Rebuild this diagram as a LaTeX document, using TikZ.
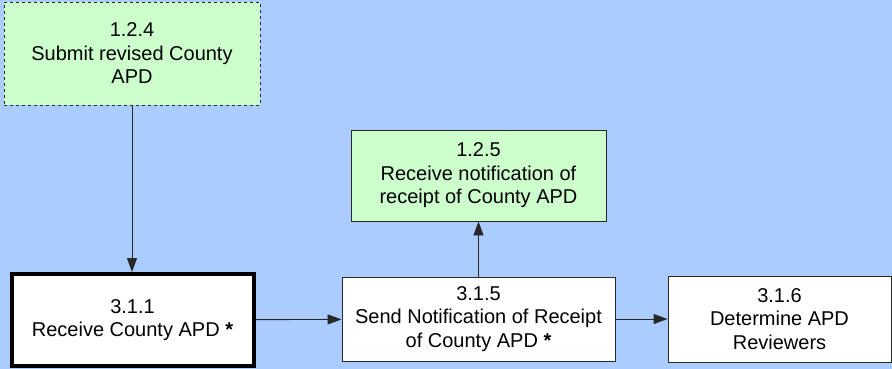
\documentclass[tikz,border=0pt]{standalone}
\usepackage{fontspec}
\setmainfont{Liberation Sans}
\usetikzlibrary{arrows.meta}

\definecolor{bgblue}{RGB}{170,204,255}
\definecolor{extgreen}{RGB}{204,255,204}
\definecolor{linegray}{RGB}{40,40,40}

\begin{document}
\begin{tikzpicture}[x=1pt,y=-1pt]
        \tikzstyle{every node}=[font=\fontsize{20}{23.5}\selectfont, align=center, inner sep=0pt]
        \tikzstyle{task}=[draw=linegray, fill=white, line width=0.9pt]
        \tikzstyle{external}=[draw=linegray, fill=extgreen, line width=0.9pt]
        \tikzstyle{flow}=[draw=linegray, line width=0.9pt, -{Triangle[length=14pt,width=10pt]}]

        % background
        \fill[bgblue] (0,0) rectangle (892,369);
        \useasboundingbox (0,0) rectangle (892,369);

        \node[external, dashed, minimum width=256pt, minimum height=103pt] (submit) at (132,53.5)
            {1.2.4\\Submit revised County\\APD};
        \node[task, draw=black, line width=4pt, minimum width=242pt, minimum height=92pt] (receive) at (132.5,320)
            {3.1.1\\Receive County APD \textbf{*}};
        \node[external, minimum width=255pt, minimum height=91pt] (notified) at (478.5,175.5)
            {1.2.5\\Receive notification of\\receipt of County APD};
        \node[task, minimum width=273pt, minimum height=84pt] (sendnote) at (478.5,319)
            {3.1.5\\Send Notification of Receipt\\of County APD \textbf{*}};
        \node[task, minimum width=223pt, minimum height=86pt] (reviewers) at (779.5,319)
            {3.1.6\\Determine APD\\Reviewers};

        \draw[flow] (submit) -- (submit |- receive.north);
        \draw[flow] (receive) -- (sendnote);
        \draw[flow] (sendnote) -- (notified);
        \draw[flow] (sendnote) -- (reviewers);

    \end{tikzpicture}
\end{document}
